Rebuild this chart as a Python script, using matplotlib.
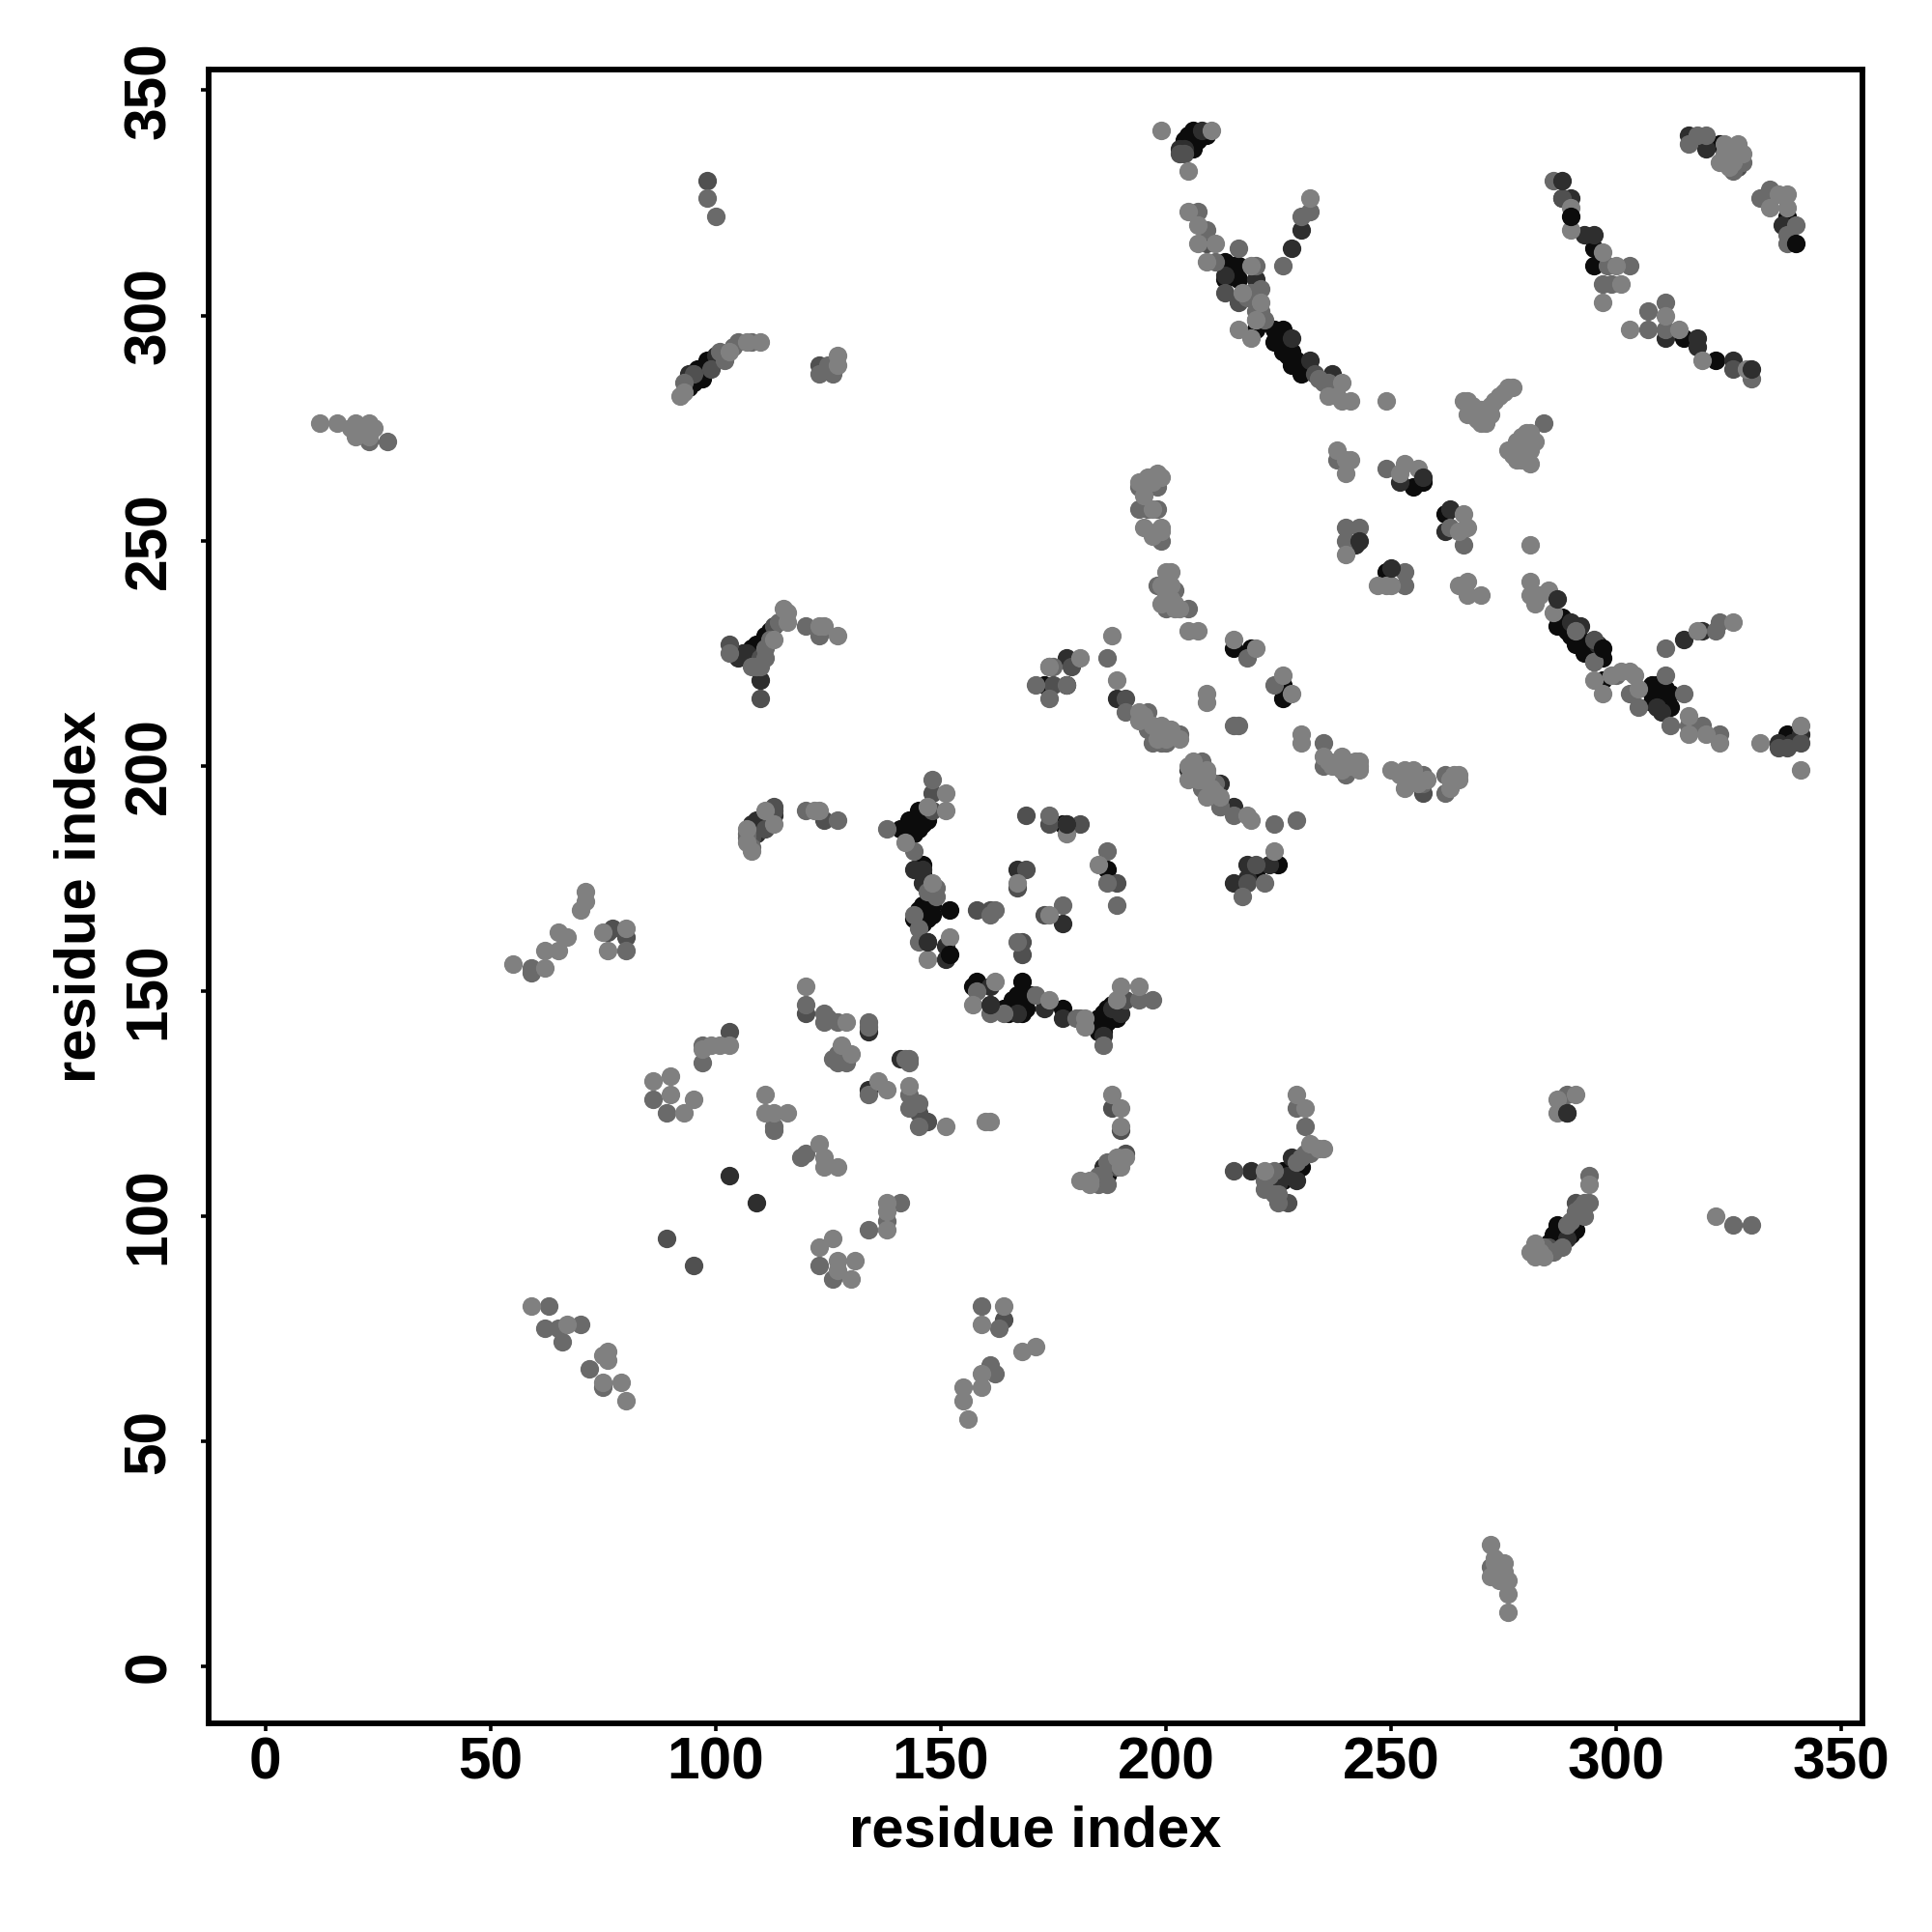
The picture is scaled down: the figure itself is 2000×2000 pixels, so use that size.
import numpy as np
import matplotlib
matplotlib.use('Agg')
import matplotlib.pyplot as plt

plt.rcParams['font.family'] = ['Liberation Sans', 'DejaVu Sans']
plt.rcParams['font.weight'] = 'bold'

# Contacts (residue i, residue j), grouped by how dark the dot is
black = [(206,341),(204,339),(206,339),(207,339),(213,312),(215,311),(216,311),(213,308),(216,308),
         (220,297),(224,297),(226,297),(224,294),(226,292),(227,291),(228,289),(230,287),
         (287,231),(289,230),(291,227),(293,225),(297,224),(297,219),(308,216),(308,218),(312,216),(312,213),
         (338,207),(340,206),(295,315),(295,311),(315,295),(322,290),(323,338),(338,322),
         (215,226),(219,226),(226,218),(226,215),(262,256),(249,243),(255,262),(257,263),
         (111,229),(109,227),(178,218),(173,218),(145,190),(143,188),(146,187),(141,186),(143,185),
         (146,178),(146,169),(147,166),(146,167),(177,187),(187,177),(158,152),(157,151),(168,152),
         (166,146),(168,148),(169,146),(170,149),(177,146),(185,144),(187,146),(189,144),(185,142),
         (187,109),(229,110),(227,110),(291,97),(287,98),(286,96),(287,93),(225,178),(220,176),
         (95,285),(96,288),(97,286),(98,290),(96,286),(97,288),(94,284),
         (205,338),(205,340),(207,340),(209,340),(206,337),
         (225,296),(227,294),(226,295),(228,292),(229,290),(231,289),(232,288),
         (288,233),(290,229),(292,228),(294,226),(295,225),(296,224),
         (308,214),(310,215),(311,217),(309,218),
         (108,226),(110,227),(112,230),(144,187),(146,189),(142,186),(145,186),(147,188),(144,185),
         (145,168),(147,168),(144,166),(148,167),(146,165),(148,169),(145,166),(147,170),(146,176),
         (165,145),(167,147),(167,149),(168,145),(169,149),(164,146),(166,148),
         (184,143),(186,145),(186,142),(188,144),(187,143),(186,141),(185,141),(188,147),(189,146),
         (228,111),(230,111),(226,108),(226,110),(288,95),(290,96),(289,97),(287,95),(286,94),(285,94)]
dark = [(208,341),(204,337),(213,309),(220,308),(228,295),(232,290),(237,287),(230,319),(228,315),
        (252,263),(242,249),(263,257),(262,252),(189,215),(199,207),(215,191),(288,326),(290,326),
        (293,318),(295,318),(318,295),(318,293),(311,295),(326,290),(320,337),(316,340),(337,320),
        (290,232),(309,213),(315,228),(319,230),(336,205),(339,205),(341,207),
        (107,225),(108,223),(110,219),(178,224),(109,186),(109,188),(146,177),(144,177),(146,174),
        (147,161),(151,160),(151,157),(167,177),(177,165),(161,151),(161,147),(167,145),
        (173,146),(177,144),(186,140),(190,145),(188,146),(134,141),(128,135),(141,135),(134,128),
        (103,109),(109,103),(186,111),(185,108),(219,110),(227,109),(224,108),(225,107),(289,95),
        (218,175),(223,178),(218,178),(215,174),(205,199),(212,196),
        (94,287),(100,291),(203,337),(296,227),(292,231),(310,212),(106,225),(107,224),(109,224),(105,224),
        (110,187),(111,188),(112,189),(109,185),(108,187),(113,189),(112,190),(228,113),(229,108),(291,100)]
mid_dark = [(204,336),(295,223),(288,326),(213,305),(216,303),(209,316),(233,287),(295,228),(326,288),
            (327,333),(257,194),(338,204),(336,204),(341,205),(110,215),(110,224),(113,231),(103,227),
            (179,222),(175,218),(111,186),(108,184),(113,191),(113,190),(124,188),(148,194),(148,190),
            (181,187),(174,187),(169,189),(158,168),(161,168),(189,174),(169,177),(167,173),(173,167),
            (168,161),(168,158),(191,148),(120,145),(145,123),(147,121),(103,141),(89,95),(95,89),
            (77,164),(76,163),(80,162),(164,77),(98,330),(95,287),(123,289),(188,124),(190,119),
            (191,114),(189,111),(215,110),(227,103),(289,123),(291,103),(285,93),(220,178),(218,174),
            (196,262),(191,215),(99,288),(203,336)]
mid = [(207,323),(209,319),(211,312),(216,315),(220,311),(219,305),(220,301),(220,299),(235,285),(230,322),
       (232,323),(226,311),(238,268),(249,266),(194,262),(198,262),(194,257),(196,257),(198,257),(199,250),
       (198,240),(202,239),(200,235),(205,235),(187,224),(191,212),(196,212),(196,208),(197,205),(199,205),
       (208,201),(208,195),(211,196),(212,191),(218,224),(224,218),(215,209),(216,209),(235,205),(235,200),
       (240,198),(257,198),(262,198),(262,194),(240,253),(243,253),(240,250),(253,243),(253,240),(263,253),(266,249),
       (291,230),(295,223),(300,220),(303,216),(305,213),(311,226),(311,220),(315,216),(312,209),(316,209),
       (319,209),(322,230),(323,232),(323,207),(286,330),(298,311),(303,311),(297,307),(299,307),(307,301),
       (307,297),(311,303),(311,297),(318,340),(320,340),(316,338),(326,332),(328,334),(330,286),(332,326),
       (334,328),(340,320),(338,318),(338,316),(284,276),(120,231),(123,229),(110,222),(108,222),(103,225),
       (111,226),(174,222),(175,222),(178,218),(171,218),(174,215),(107,185),(120,190),(127,188),(148,197),
       (138,186),(144,181),(149,171),(144,167),(145,164),(145,161),(162,168),(161,167),(174,189),(178,187),
       (187,181),(187,174),(189,169),(177,169),(167,161),(158,150),(164,145),(161,145),(171,149),(180,144),
       (181,144),(186,138),(194,148),(197,148),(120,147),(124,145),(125,144),(124,143),(127,143),(134,143),
       (134,142),(127,134),(143,135),(134,127),(143,127),(145,125),(143,124),(145,120),(97,138),(97,134),
       (86,126),(89,123),(113,120),(113,119),(120,114),(119,113),(141,103),(138,99),(134,97),(123,89),(126,86),
       (159,80),(163,75),(70,76),(63,80),(62,75),(65,75),(66,72),(72,66),(75,62),(59,155),(59,154),(80,159),
       (23,272),(27,272),(98,326),(100,322),(93,285),(101,292),(102,290),(104,293),(105,294),(108,294),
       (123,287),(126,287),(125,289),(162,65),(161,67),(272,22),(326,98),(330,98),(224,187),(229,188),
       (217,171),(222,174),(212,191),(215,189),(289,127),(224,110),(232,114),(229,112),(222,108),(225,103),
       (231,120),(229,124),(294,109),(294,103),(293,100),(290,99),(289,98),(284,93),(185,107),(187,107),
       (218,304),(221,301),(221,306),(222,299),(234,286),(236,285),(238,284),(237,283),
       (200,205),(203,207),(257,196),(112,228),(114,232),(111,224),(109,222),(107,184),(108,182),
       (147,172),(148,172),(149,173),(187,112),(188,112),(185,109),(186,109),(190,113),
       (230,113),(231,114),(222,106),(223,109),(224,105),(225,105),(292,102),(293,103),(291,101),(293,102),
       (286,92),(288,93),(142,135),(143,134),(126,135),(127,136),(129,134)]
light = [(199,341),(210,341),(205,332),(205,323),(207,320),(207,316),(211,316),(209,312),(219,311),(217,305),
         (221,303),(216,297),(219,295),(220,299),(232,326),(239,285),(236,282),(239,281),(241,281),(249,281),
         (238,270),(240,268),(241,268),(240,265),(253,267),(256,266),(252,265),(198,265),(194,263),(195,253),(199,253),
         (200,243),(201,243),(200,241),(202,235),(205,230),(207,230),(188,229),(189,219),(194,212),(194,210),
         (198,208),(201,207),(206,201),(205,197),(209,198),(212,193),(209,193),(215,228),(220,226),(226,220),
         (228,216),(209,216),(209,214),(230,207),(230,205),(235,202),(239,202),(239,199),(243,201),(243,199),
         (250,199),(253,199),(254,196),(253,195),(265,198),(264,198),(263,195),(240,247),(247,240),(249,240),(250,240),
         (266,256),(267,253),(265,252),(265,240),(267,241),(267,238),(270,238),(281,249),(281,241),(281,238),
         (283,238),(285,239),(282,236),(286,234),(295,219),(297,216),(299,220),(301,221),(303,221),(304,220),
         (305,217),(316,211),(316,207),(320,207),(323,205),(332,205),(341,209),(341,199),(318,230),(326,232),
         (290,324),(290,319),(297,314),(300,311),(301,307),(297,303),(303,297),(311,300),(314,297),(319,290),(329,288),
         (324,338),(327,338),(323,334),(324,336),(336,327),(338,327),(334,324),(338,324),
         (267,281),(266,281),(268,280),(267,278),(270,276),(270,279),(273,281),(276,284),(272,278),
         (280,274),(278,272),(276,270),(278,268),(281,267),(280,270),
         (115,235),(116,234),(116,232),(123,231),(124,231),(127,229),(113,228),(181,224),(174,222),
         (108,181),(107,183),(107,186),(111,190),(113,187),(122,190),(123,190),(151,194),(151,190),(147,191),
         (142,183),(148,174),(152,162),(147,157),(185,178),(167,174),(174,167),(178,185),(157,147),(162,152),
         (174,148),(182,144),(182,142),(190,151),(194,151),(189,148),(120,151),(129,143),(128,138),(130,136),
         (136,130),(138,128),(143,129),(151,120),(160,121),(161,121),(103,138),(101,138),(99,138),(97,137),
         (90,131),(86,130),(90,127),(93,123),(95,126),(111,127),(111,123),(113,123),(116,123),(123,116),(124,113),
         (124,111),(127,111),(138,103),(138,101),(138,97),(126,95),(123,93),(127,90),(131,90),(130,86),(127,88),
         (164,80),(159,76),(59,80),(67,76),(75,69),(76,68),(75,63),(79,63),(80,59),(76,70),
         (71,172),(71,170),(70,168),(65,163),(67,162),(62,159),(65,159),(55,156),(62,155),(75,163),(80,164),(76,159),
         (12,276),(16,276),(20,276),(19,275),(21,274),(23,276),(24,275),(23,273),(20,273),
         (92,282),(93,283),(103,292),(107,294),(110,294),(127,289),(127,291),
         (171,71),(168,70),(159,65),(155,62),(159,62),(155,59),(156,55),
         (272,27),(275,23),(272,20),(276,19),(274,21),(276,16),(276,12),(322,100),(224,181),(218,189),(219,188),
         (188,127),(190,124),(190,120),(189,113),(190,111),(183,108),(181,108),
         (229,127),(231,124),(232,116),(235,115),(234,115),(222,110),(291,127),(287,126),(287,123),(294,107),
         (282,94),(282,91),(281,92),
         (238,282),(268,279),(269,277),(271,279),(272,280),(274,282),(275,283),(277,284),(271,276),
         (278,270),(279,273),(279,270),(280,268),(281,270),(282,272),(281,274),(279,268),(277,269),(280,272),
         (196,264),(197,263),(199,264),(195,260),(197,257),(197,251),(198,252),(199,252),
         (200,238),(199,240),(201,240),(201,237),(202,236),(199,236),(203,235),
         (195,211),(197,209),(198,206),(200,206),(203,206),(201,208),(199,209),
         (206,198),(207,197),(208,197),(210,195),(211,194),(207,199),(209,199),(205,200),
         (236,201),(237,200),(241,200),(242,201),(238,200),(240,201),(243,200),
         (254,198),(255,197),(256,196),(252,198),(255,199),(258,197),(263,197),(265,197),
         (183,107),(191,113),(283,92),(284,91),(273,23),(274,19),(273,24),(275,21),
         (325,335),(325,333),(327,336),(328,336),(326,334)]
# the few dark dots that sit on top of the lighter ones
top_dark = [(257,264),(243,250),(250,244),(287,237),(288,330),(330,288),(178,187),(147,161),(161,147),(289,123)]
top_black = [(340,316),(290,322),(297,226),(152,168),(152,158)]

tick_vals = [0, 50, 100, 150, 200, 250, 300, 350]

layers = [(black, '#0c0c0c'), (dark, '#2e2e2e'), (mid_dark, '#505050'), (mid, '#6a6a6a'),
          (light, '#808080'), (top_dark, '#2e2e2e'), (top_black, '#0c0c0c')]

fig = plt.figure(figsize=(10, 10), dpi=200)
ax = fig.add_axes([0.108, 0.108, 0.856, 0.856])

for pts, col in layers:
    pts = np.array(pts)
    ax.scatter(pts[:, 0], pts[:, 1], s=48, c=col, linewidths=0)

ax.set_xlim(-12.6, 354.7)
ax.set_ylim(-12.65, 354.6)
ax.set_xticks(tick_vals)
ax.set_yticks(tick_vals)
ax.tick_params(axis='x', length=3, width=1.3, labelsize=21.8, pad=2)
ax.tick_params(axis='y', length=3, width=1.3, labelsize=21.8, pad=8.5)
for lab in ax.get_yticklabels():
    lab.set_rotation(90)
    lab.set_va('center')
for sp in ax.spines.values():
    sp.set_linewidth(2.1)

ax.set_xlabel('residue index', fontsize=21.5, fontweight='bold', labelpad=5)
ax.set_ylabel('residue index', fontsize=21.5, fontweight='bold', labelpad=6)

fig.savefig('out.png', dpi=200, facecolor='white')
